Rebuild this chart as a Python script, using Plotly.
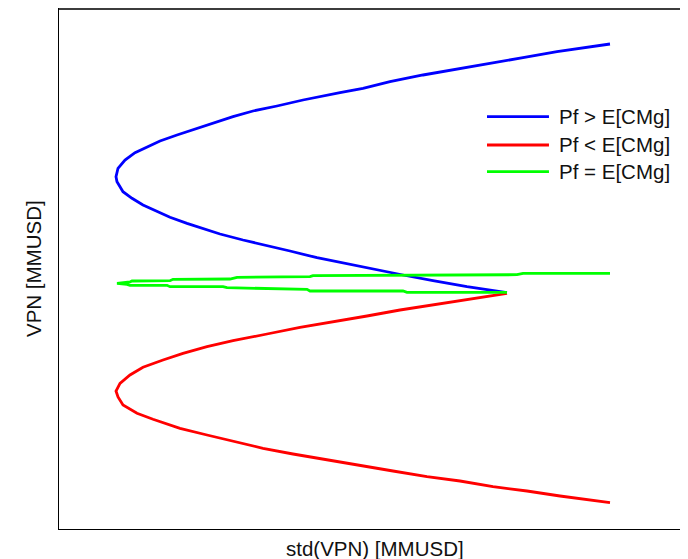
import plotly.graph_objects as go

# std(VPN) [MMUSD] and VPN [MMUSD]
blue_std = [55.1, 53.1, 49.8, 46.4, 43.1, 39.8, 36.4, 33.1, 30.4, 28.1, 24.4, 21.8, 19.4, 17.4,
            15.4, 13.4, 11.8, 10.1, 8.8, 7.6, 6.6, 5.9, 5.7, 5.8, 6.4, 7.3, 8.4, 9.6, 11.1, 12.8,
            14.4, 16.1, 18.4, 20.8, 23.1, 25.8, 28.8, 31.4, 34.4, 37.4, 40.8, 44.8]
blue_vpn = [48.5, 48.23, 47.73, 47.13, 46.57, 46.0, 45.4, 44.73, 44.07, 43.63, 42.9, 42.3, 41.8,
            41.23, 40.57, 39.97, 39.4, 38.8, 38.23, 37.63, 36.9, 36.07, 35.23, 34.73, 33.73, 33.07,
            32.4, 31.83, 31.17, 30.57, 30.07, 29.5, 28.9, 28.3, 27.8, 27.13, 26.5, 25.97, 25.4,
            24.83, 24.23, 23.63]

red_std = [44.8, 40.8, 37.4, 34.1, 30.8, 27.4, 24.1, 20.8, 17.4, 14.8, 12.4, 10.4, 8.4, 7.1, 6.1,
           5.7, 5.9, 6.4, 7.8, 9.4, 12.1, 14.8, 17.4, 20.4, 23.4, 26.8, 30.1, 33.4, 36.8, 40.1,
           43.4, 46.8, 50.1, 52.8, 55.1]
red_vpn = [23.57, 22.97, 22.4, 21.9, 21.3, 20.73, 20.17, 19.5, 18.83, 18.23, 17.57, 16.9, 16.17,
           15.4, 14.57, 13.8, 13.2, 12.4, 11.57, 10.97, 10.07, 9.4, 8.8, 8.07, 7.5, 6.9, 6.33, 5.8,
           5.23, 4.8, 4.23, 3.8, 3.3, 2.97, 2.63]

green_std = [44.8, 34.8, 34.4, 25.1, 24.8, 16.8, 16.4, 11.1, 10.8, 7.1, 6.8, 5.8, 7.1, 7.3, 11.1,
             11.4, 17.1, 17.8, 25.1, 25.4, 45.8, 46.4, 55.1]
green_vpn = [23.67, 23.67, 23.8, 23.8, 23.97, 24.13, 24.23, 24.23, 24.37, 24.37, 24.47, 24.57,
             24.7, 24.8, 24.83, 24.97, 25.0, 25.17, 25.23, 25.33, 25.43, 25.57, 25.57]

series_names = ["Pf > E[CMg]", "Pf < E[CMg]", "Pf = E[CMg]"]
series_colors = ["#0000ff", "#ff0000", "#00ff00"]

FONT = "Liberation Sans, Arial, Helvetica, sans-serif"

fig = go.Figure()
for name, color, xs, ys in zip(series_names, series_colors,
                               [blue_std, red_std, green_std],
                               [blue_vpn, red_vpn, green_vpn]):
    fig.add_trace(go.Scatter(x=xs, y=ys, mode="lines", name=name,
                             line=dict(color=color, width=2.8), showlegend=False))

# manual legend (long line samples like the reference)
leg_y = [0.7929, 0.7385, 0.6871]
shapes = []
annotations = []
for name, color, yy in zip(series_names, series_colors, leg_y):
    shapes.append(dict(type="line", xref="paper", yref="paper", x0=0.6783, x1=0.7765,
                       y0=yy, y1=yy, line=dict(color=color, width=2.8)))
    annotations.append(dict(text=name, xref="paper", yref="paper", x=0.789, y=yy,
                            xanchor="left", yanchor="middle", showarrow=False,
                            font=dict(family=FONT, size=20.5, color="#111111")))

# top border (thicker grey)
shapes.append(dict(type="line", xref="paper", yref="paper", x0=0, x1=1, y0=1, y1=1,
                   line=dict(color="#3c3c3c", width=2)))

annotations.append(dict(text="std(VPN) [MMUSD]", xref="paper", yref="paper", x=0.5, y=0,
                        yshift=-19, xanchor="center", yanchor="middle", showarrow=False,
                        font=dict(family=FONT, size=20.5, color="#111111")))
annotations.append(dict(text="VPN [MMUSD]", xref="paper", yref="paper", x=0, y=0.5,
                        xshift=-26, xanchor="center", yanchor="middle", showarrow=False,
                        textangle=-90, font=dict(family=FONT, size=20.5, color="#111111")))

# the page adds an 8px body margin; margins below compensate for it
fig.update_layout(
    width=692, height=551,
    margin=dict(l=51, r=10, t=1, b=30),
    paper_bgcolor="white", plot_bgcolor="white",
    shapes=shapes, annotations=annotations,
    font=dict(family=FONT),
)
fig.update_xaxes(range=[0, 63.1], showgrid=False, zeroline=False, showticklabels=False,
                 ticks="", showline=True, linecolor="black", linewidth=1, mirror=True)
fig.update_yaxes(range=[0, 52.0], showgrid=False, zeroline=False, showticklabels=False,
                 ticks="", showline=True, linecolor="black", linewidth=1, mirror=True)

fig.write_html("out.html")
